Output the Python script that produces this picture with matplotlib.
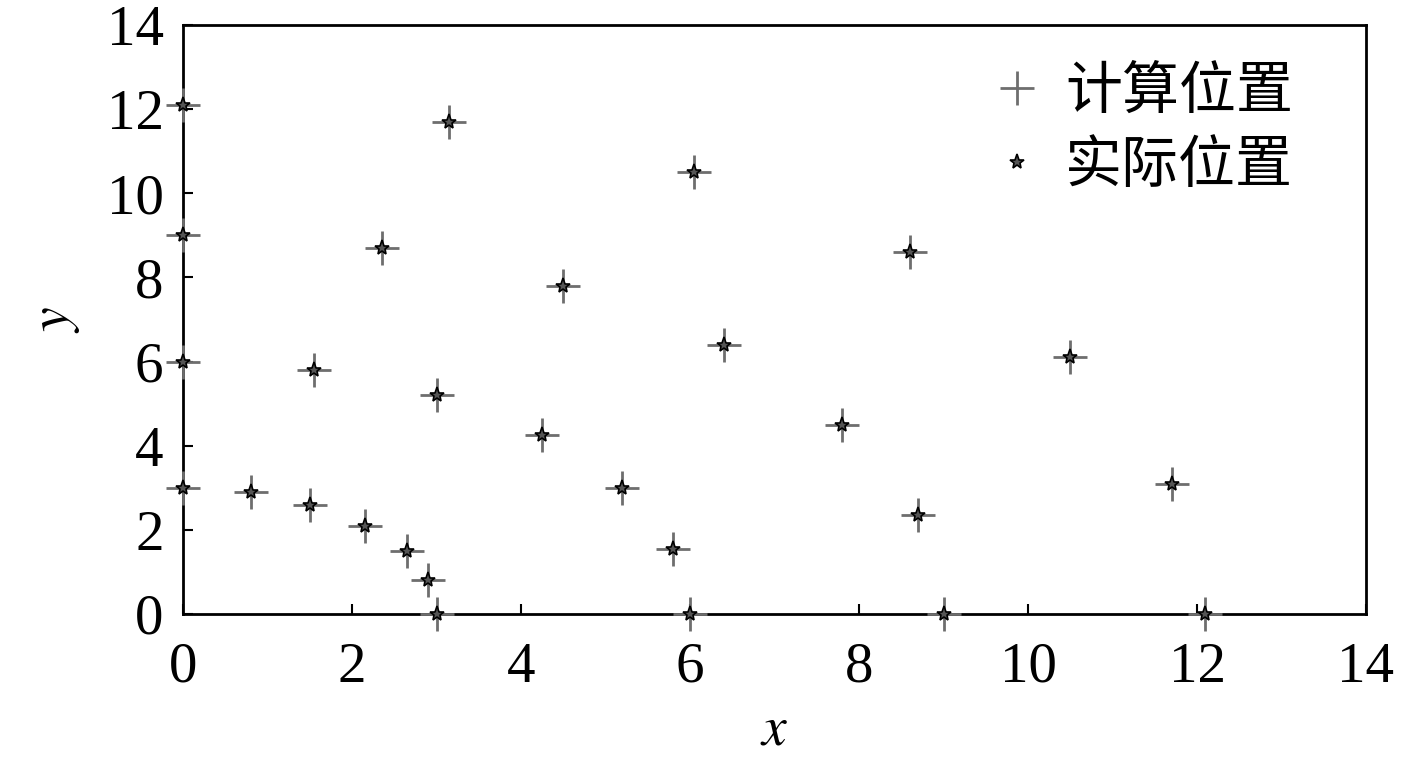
import matplotlib
matplotlib.use('Agg')
import matplotlib.pyplot as plt

calc_x = [0, 0.8, 1.5, 2.15, 2.65, 2.9, 3.0,
          0, 1.55, 3.0, 4.25, 5.2, 5.8, 6.0,
          0, 2.35, 4.5, 6.4, 7.8, 8.7, 9.0,
          0, 3.15, 6.05, 8.6, 10.5, 11.7, 12.1]
calc_y = [3.0, 2.9, 2.6, 2.1, 1.5, 0.8, 0,
          6.0, 5.8, 5.2, 4.25, 3.0, 1.55, 0,
          9.0, 8.7, 7.8, 6.4, 4.5, 2.35, 0,
          12.1, 11.7, 10.5, 8.6, 6.1, 3.1, 0]
real_x = calc_x
real_y = calc_y

xticks = [0, 2, 4, 6, 8, 10, 12, 14]
yticks = [0, 2, 4, 6, 8, 10, 12, 14]

plt.rcParams['font.family'] = ['Liberation Serif', 'Noto Sans CJK SC']
plt.rcParams['mathtext.fontset'] = 'stix'

fig = plt.figure(figsize=(14.17, 7.61), dpi=100)
ax = fig.add_axes([183/1417, 1 - 614/761, (1366-183)/1417, (614-25)/761])

ax.plot(calc_x, calc_y, '+', color='#6e6e6e', markersize=24, markeredgewidth=2,
        label='计算位置', clip_on=False, zorder=3)
ax.plot(real_x, real_y, '*', markerfacecolor='#555555', markeredgecolor='black',
        markersize=11, markeredgewidth=1.2, label='实际位置', clip_on=False, zorder=4)

ax.set_xlim(0, 14)
ax.set_ylim(0, 14)
ax.set_xticks(xticks)
ax.set_yticks(yticks)
ax.tick_params(direction='in', length=7, width=1.5, labelsize=41,
               top=False, right=False)
ax.tick_params(axis='x', pad=20)
ax.tick_params(axis='y', pad=14)
for s in ax.spines.values():
    s.set_linewidth(2)

ax.set_xlabel('$x$', fontsize=40, labelpad=8)
ax.set_ylabel('$y$', fontsize=40, labelpad=18)

leg = ax.legend(loc='upper right', frameon=False,
                prop={'family': ['Noto Sans CJK SC'], 'size': 41},
                handlelength=0.9, handletextpad=0.4, labelspacing=0.28,
                borderpad=0, borderaxespad=0,
                bbox_to_anchor=((1293-183)/1183, (614-62)/589))

fig.savefig('out.png', dpi=100)
